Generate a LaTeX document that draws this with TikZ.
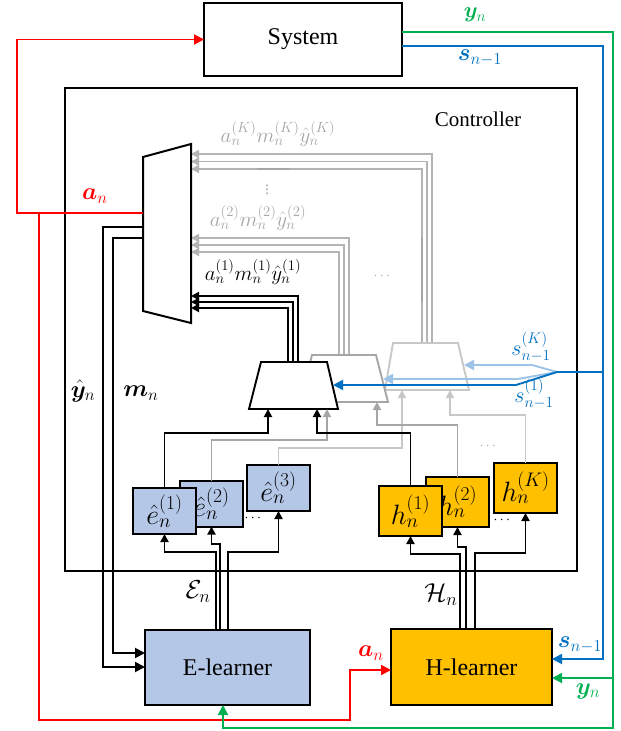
\RequirePackage{fix-cm}
\documentclass[tikz,border=0pt]{standalone}
\usepackage{amsmath}
\usepackage{fontspec}
\setmainfont{Liberation Serif}
\usepackage{bm}
\usetikzlibrary{arrows.meta}
\definecolor{eblue}{HTML}{B4C7E7}
\definecolor{horange}{HTML}{FFC000}
\definecolor{xred}{HTML}{FF0000}
\definecolor{xgreen}{HTML}{00B050}
\definecolor{xblue}{HTML}{0070C0}
\definecolor{lblue}{HTML}{9DC3E6}
\definecolor{gA}{HTML}{A6A6A6}
\definecolor{gB}{HTML}{C8C8C8}
\definecolor{gC}{HTML}{B4B4B4}
\begin{document}
\begin{tikzpicture}[x=1pt,y=-1pt,
  box/.style={draw, line width=2pt, inner sep=0pt, outer sep=0pt},
  ln/.style={line width=1.9pt},
  tip/.style={-{Triangle[length=10pt,width=10pt]}},
  stip/.style={-{Triangle[length=8pt,width=8pt]}},
  bigtxt/.style={font=\fontsize{24}{28}\selectfont},
  lab/.style={font=\fontsize{24}{28}\selectfont, inner sep=0pt},
  glab/.style={font=\fontsize{21}{24}\selectfont, inner sep=0pt},
  xbox/.style={box, minimum width=63pt, minimum height=46pt, font=\fontsize{28}{30}\selectfont},
  hbox/.style={box, minimum width=63pt, minimum height=50pt, font=\fontsize{28}{30}\selectfont}
]
\useasboundingbox (0,0) rectangle (621,731);

% controller and system
\node[box, minimum width=512pt, minimum height=483pt] (ctrl) at (321,329.5) {};
\node[font=\fontsize{21}{24}\selectfont] (ctrllab) at (478,119) {Controller};
\node[box, bigtxt, fill=white, minimum width=198pt, minimum height=73pt] (sys) at (303,39.5) {System};

% learners
\node[box, bigtxt, fill=eblue, minimum width=165pt, minimum height=75pt] (elearn) at (227.5,667.5) {E-learner};
\node[box, bigtxt, fill=horange, minimum width=161pt, minimum height=76pt] (hlearn) at (471.5,667) {H-learner};

% gray output groups into the big MUX
\draw[ln,gC,stip] (432,343) |- (191,154);
\draw[ln,gC,stip] (427,343) |- (191,161.5);
\draw[ln,gC,stip] (422,343) |- (191,169);
\draw[line width=2.6pt,gA] (257,169) -- (289,169);
\draw[line width=2.6pt,gA] (422,237) -- (422,302);
\draw[ln,gC,stip] (349,355) |- (191,238);
\draw[ln,gC,stip] (344,355) |- (191,245);
\draw[ln,gC,stip] (339,355) |- (191,252);
% black group
\draw[ln,stip] (298,362) |- (191,296);
\draw[ln,stip] (293,362) |- (191,302);
\draw[ln,stip] (288,362) |- (191,308);

% small muxes
\draw[ln,gB,fill=white] (385,390) -- (469,390) -- (458,343) -- (393,343) -- cycle;
\draw[ln,gA,fill=white] (300,402) -- (388,402) -- (376,355) -- (312,355) -- cycle;
\draw[ln,fill=white] (249,409) -- (338,409) -- (327,362) -- (261,362) -- cycle;

% big MUX
\draw[line width=2pt,fill=white] (143,157) -- (191,144) -- (191,323) -- (143,311) -- cycle;
\coordinate (muxA) at (143,213);
\coordinate (muxY) at (143,227);
\coordinate (muxM) at (143,238);

% labels of groups
\node[glab, text=gA] (lK) at (278,134) {$a_n^{(K)}m_n^{(K)}\hat{y}_n^{(K)}$};
\node[glab, text=gA] (l2) at (258,218) {$a_n^{(2)}m_n^{(2)}\hat{y}_n^{(2)}$};
\node[glab] (l1) at (253,272) {$a_n^{(1)}m_n^{(1)}\hat{y}_n^{(1)}$};
\node[text=gA, font=\fontsize{16}{18}\selectfont, inner sep=0pt] (vd) at (267,187) {$\vdots$};
\node[text=gA, font=\fontsize{14}{16}\selectfont] (hd1) at (383,276) {$\cdots$};
\node[text=gA, font=\fontsize{14}{16}\selectfont] (hd2) at (489,446) {$\cdots$};

% experts
\node[xbox, fill=eblue] (e2) at (211.5,503.5) {$\hat{e}_n^{(2)}$};
\node[xbox, fill=eblue] (e1) at (164.5,511) {$\hat{e}_n^{(1)}$};
\node[xbox, fill=eblue] (e3) at (278.5,488) {$\hat{e}_n^{(3)}$};
\node[hbox, fill=horange] (h2) at (457.5,502) {$h_n^{(2)}$};
\node[hbox, fill=horange] (h1) at (410.5,511) {$h_n^{(1)}$};
\node[hbox, fill=horange] (hK) at (525.5,488) {$h_n^{(K)}$};
\node[font=\fontsize{14}{16}\selectfont] (ed) at (254,518) {$\cdots$};
\node[font=\fontsize{14}{16}\selectfont] (hd) at (503,520) {$\cdots$};

% expert outputs to small muxes
\draw[ln,gB,stip] (e3.north) |- (402,448) -- (402,390);
\draw[ln,gB,stip] (hK.north) |- (450,415) -- (450,390);
\draw[ln,gA,stip] (e2.north) |- (327,440) -- (327,409);
\draw[ln,gA,stip] (h2.north) |- (377,425) -- (377,402);
\draw[ln,stip] (e1.north) |- (268,433) -- (268,409);
\draw[ln,stip] (h1.north) |- (317,433) -- (317,409);

% learner to experts
\draw[ln,stip] (216,629.5) |- (164.5,552) -- (e1.south);
\draw[ln,stip] (220,629.5) |- (211.5,544) -- (e2.south);
\draw[ln,stip] (228,629.5) |- (278.5,552) -- (e3.south);
\draw[ln,stip] (460,629) |- (410.5,554) -- (h1.south);
\draw[ln,stip] (466,629) |- (457.5,547) -- (h2.south);
\draw[ln,stip] (475,629) |- (525.5,553) -- (hK.south);
\node[lab, font=\fontsize{26}{30}\selectfont] (En) at (198,592) {$\mathcal{E}_n$};
\node[lab, font=\fontsize{26}{30}\selectfont] (Hn) at (441,595) {$\mathcal{H}_n$};

% mux outputs to E-learner
\draw[ln,tip] (muxY) -- (103,227) -- (103,667) -- ([yshift=0.5pt]elearn.west);
\draw[ln,tip] (muxM) -- (113,238) -- (113,653) -- ([yshift=14.5pt]elearn.west);
\node[lab] (yl) at (83,391) {$\hat{\bm{y}}_n$};
\node[lab] (ml) at (141,393) {$\bm{m}_n$};

% red action
\draw[ln,xred,tip] (muxA) -- (17,213) |- (sys.west);
\draw[ln,xred,tip] (39,213) -- (39,720) -- (350,720) |- ([yshift=-3pt]hlearn.west);
\node[lab,text=xred] (a1) at (95,196) {$\bm{a}_n$};
\node[lab,text=xred] (a2) at (371,653) {$\bm{a}_n$};

% green output
\draw[ln,xgreen,tip] ([yshift=7.5pt]sys.east) -- (613,32) -- (613,728) -- (223,728) -- ([xshift=-4.5pt]elearn.south);
\draw[ln,xgreen,tip] (613,678) -- ([yshift=-11pt]hlearn.east);
\node[lab,text=xgreen,font=\fontsize{22}{26}\selectfont] (y1) at (475,15) {$\bm{y}_n$};
\node[lab,text=xgreen] (y2) at (588,691) {$\bm{y}_n$};

% blue state
\draw[ln,xblue,tip] ([yshift=-6.5pt]sys.east) -- (603,46) -- (603,659) -- ([yshift=8pt]hlearn.east);
\draw[ln,lblue,tip] (557,372) -- (532,365) -- (464,365);
\draw[ln,lblue,tip] (557,372) -- (518,379) -- (383,379);
\draw[ln,xblue,tip] (603,372) -- (557,372) -- (516,385) -- (333,385);
\node[lab,text=xblue] (s1) at (480,58) {$\bm{s}_{n-1}$};
\node[lab,text=xblue] (s2) at (580,645) {$\bm{s}_{n-1}$};
\node[glab,text=xblue, font=\fontsize{22}{26}\selectfont] (sK) at (531,347) {$s_{n-1}^{(K)}$};
\node[glab,text=xblue, font=\fontsize{22}{26}\selectfont] (s1b) at (534,394) {$s_{n-1}^{(1)}$};
\end{tikzpicture}
\end{document}
